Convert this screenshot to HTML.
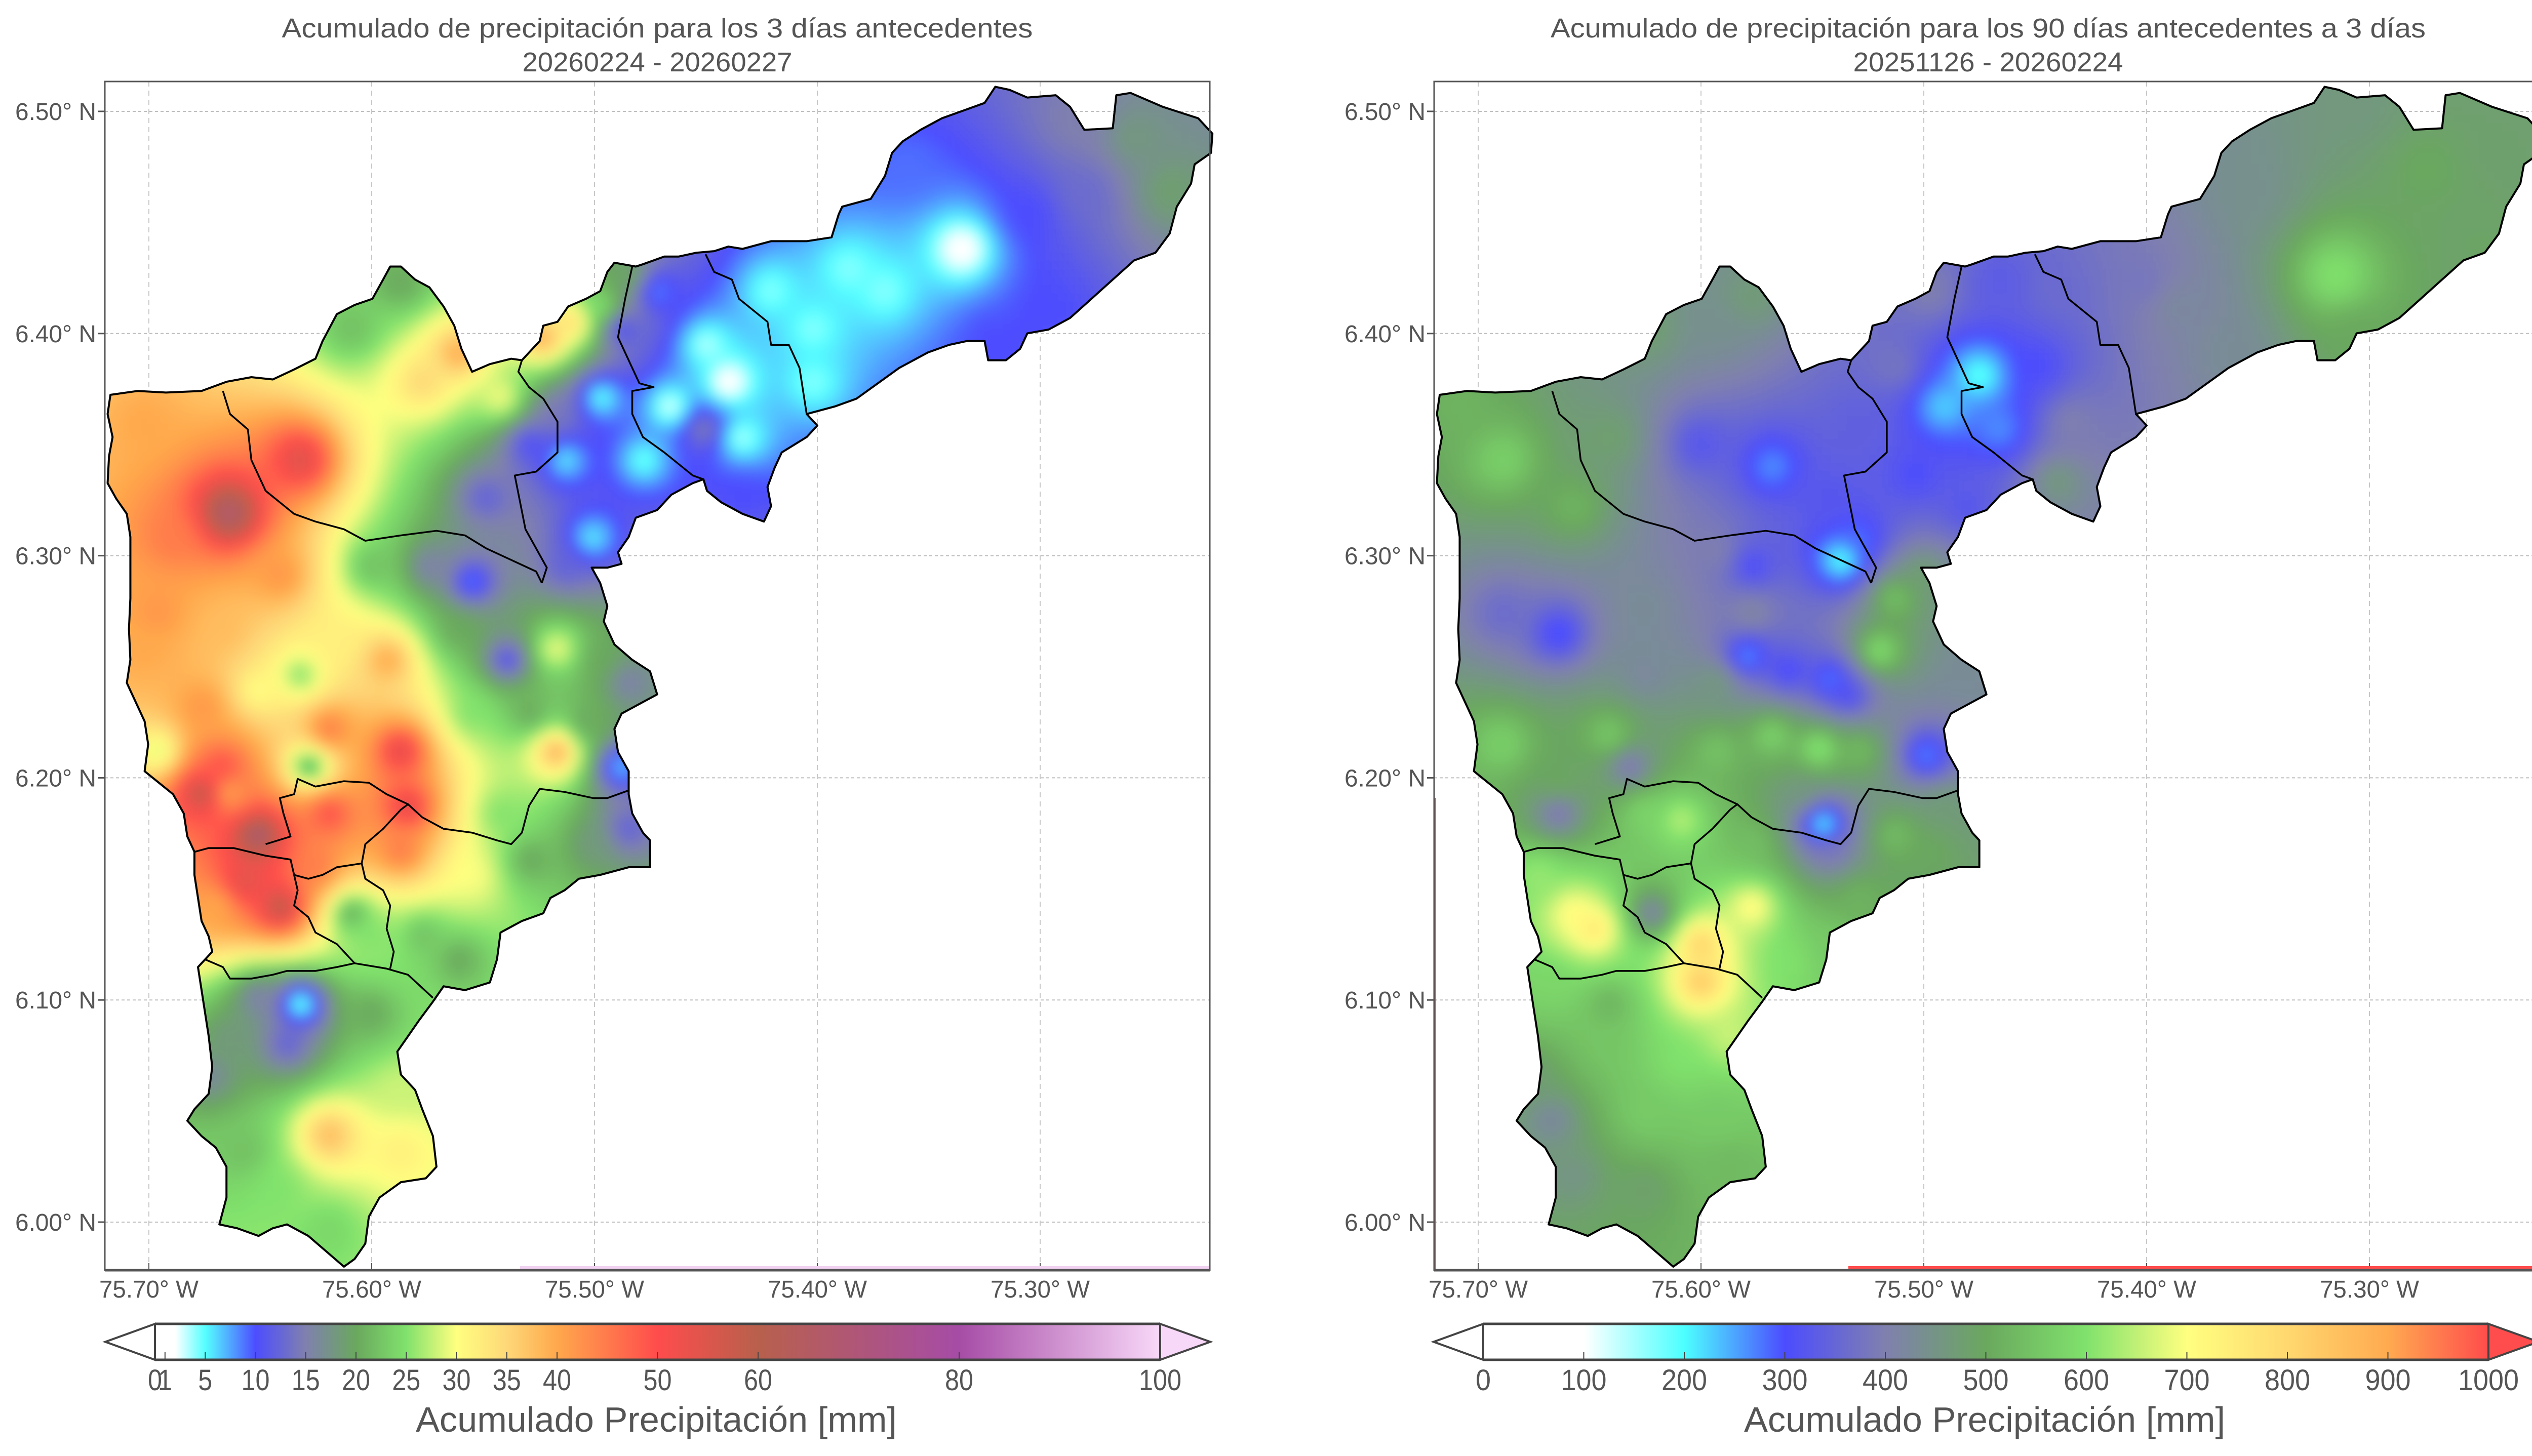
<!DOCTYPE html>
<html><head><meta charset="utf-8">
<style>
html,body{margin:0;padding:0;background:#fff;overflow:hidden;}
svg{display:block;}
text{font-family:"Liberation Sans",sans-serif;fill:#555;}
</style></head>
<body>
<svg id="fig" xmlns="http://www.w3.org/2000/svg" width="5044" height="2876" viewBox="0 0 5044 2876">
<defs>
<filter id="blur" x="-5%" y="-5%" width="110%" height="110%"><feGaussianBlur stdDeviation="12"/></filter>
</defs>
<rect width="5044" height="2876" fill="#fff"/>
<g id="p0"></g>
<g id="p1"></g>
</svg>
<script>
// ---------- data ----------
const lonTicks = [-75.70,-75.60,-75.50,-75.40,-75.30];
const lonTickLabels = ["75.70° W","75.60° W","75.50° W","75.40° W","75.30° W"];
const latTicks = [6.50,6.40,6.30,6.20,6.10,6.00];
const latTickLabels = ["6.50° N","6.40° N","6.30° N","6.20° N","6.10° N","6.00° N"];

// panel 1 stations (3 days)
const st1Lon = [-75.335,-75.360,-75.306,-75.296,-75.322,-75.258,-75.242,-75.283,-75.386,-75.402,-75.440,-75.466,-75.451,-75.434,-75.513,-75.501,-75.472,-75.488,-75.485,-75.497,-75.510,-75.523,-75.587,-75.609,-75.577,-75.561,-75.542,-75.517,-75.529,-75.549,-75.555,-75.574,-75.600,-75.664,-75.632,-75.702,-75.689,-75.641,-75.702,-75.667,-75.632,-75.651,-75.616,-75.593,-75.561,-75.539,-75.517,-75.513,-75.497,-75.485,-75.529,-75.504,-75.488,-75.485,-75.501,-75.517,-75.555,-75.587,-75.619,-75.628,-75.667,-75.676,-75.664,-75.696,-75.584,-75.619,-75.651,-75.657,-75.641,-75.670,-75.625,-75.609,-75.600,-75.587,-75.555,-75.542,-75.529,-75.577,-75.561,-75.632,-75.638,-75.664,-75.651,-75.600,-75.673,-75.619,-75.587,-75.641,-75.657,-75.619,-75.587,-75.696,-75.676,-75.450,-75.434,-75.478,-75.497,-75.421,-75.370,-75.402,-75.280];
const st1Lat = [6.438,6.474,6.454,6.412,6.398,6.488,6.464,6.495,6.429,6.378,6.378,6.367,6.357,6.329,6.343,6.308,6.419,6.402,6.426,6.412,6.405,6.398,6.423,6.402,6.378,6.391,6.371,6.364,6.350,6.326,6.288,6.295,6.295,6.319,6.343,6.360,6.308,6.291,6.257,6.267,6.246,6.239,6.260,6.253,6.267,6.253,6.258,6.295,6.253,6.243,6.229,6.225,6.205,6.177,6.170,6.212,6.229,6.212,6.222,6.205,6.205,6.193,6.193,6.212,6.187,6.184,6.174,6.153,6.142,6.142,6.160,6.139,6.129,6.167,6.156,6.184,6.163,6.129,6.118,6.098,6.080,6.084,6.101,6.094,6.066,6.039,6.032,6.015,6.032,5.997,6.059,6.274,6.232,6.395,6.353,6.343,6.371,6.419,6.419,6.402,6.464];
const st1Val = [1,9,10,10,10,18,19,15,4,4,0.5,2,15,10,5,5,8,10,20,25,35,40,20,22,35,40,30,14,10,12,8,15,22,68,55,40,45,42,40,38,25,30,32,40,20,10,30,12,20,15,20,20,6,12,18,40,25,55,45,20,50,60,40,28,55,50,70,55,60,40,45,20,25,45,30,25,20,22,20,3,12,18,15,20,16,38,32,25,22,24,28,42,42,3,3,4,4,4,4,4,13];

// panel 2 stations (90 days)
const st2Lon = [-75.315,-75.274,-75.242,-75.306,-75.354,-75.386,-75.402,-75.440,-75.363,-75.306,-75.248,-75.475,-75.491,-75.466,-75.504,-75.450,-75.434,-75.440,-75.513,-75.497,-75.481,-75.466,-75.529,-75.568,-75.600,-75.542,-75.537,-75.529,-75.593,-75.577,-75.625,-75.641,-75.689,-75.708,-75.657,-75.664,-75.689,-75.625,-75.593,-75.577,-75.577,-75.520,-75.513,-75.501,-75.481,-75.579,-75.561,-75.542,-75.534,-75.593,-75.625,-75.641,-75.689,-75.664,-75.664,-75.632,-75.593,-75.568,-75.547,-75.529,-75.499,-75.491,-75.545,-75.542,-75.555,-75.609,-75.625,-75.577,-75.513,-75.497,-75.529,-75.657,-75.648,-75.673,-75.622,-75.600,-75.600,-75.577,-75.587,-75.561,-75.542,-75.667,-75.641,-75.609,-75.593,-75.667,-75.657,-75.625,-75.587,-75.625,-75.641,-75.676];
const st2Lat = [6.426,6.474,6.481,6.502,6.464,6.412,6.423,6.419,6.391,6.398,6.440,6.381,6.367,6.357,6.336,6.385,6.360,6.333,6.385,6.419,6.322,6.423,6.360,6.340,6.350,6.326,6.298,6.308,6.402,6.416,6.402,6.353,6.343,6.367,6.322,6.265,6.274,6.277,6.302,6.295,6.274,6.257,6.281,6.291,6.246,6.255,6.248,6.244,6.237,6.243,6.246,6.219,6.215,6.198,6.184,6.205,6.212,6.219,6.213,6.212,6.210,6.187,6.179,6.167,6.194,6.181,6.184,6.170,6.174,6.167,6.146,6.139,6.132,6.156,6.139,6.125,6.108,6.142,6.084,6.118,6.125,6.108,6.080,6.073,6.049,6.046,6.021,6.015,6.025,6.049,6.098,6.066];
const st2Val = [600,500,480,460,440,420,380,360,430,500,490,180,220,260,300,300,400,460,380,400,320,330,340,260,320,320,180,280,440,470,480,480,570,520,520,290,360,430,400,300,420,600,550,480,430,250,290,260,300,460,420,560,570,500,380,380,550,580,620,540,260,470,180,380,460,650,580,540,540,500,520,720,770,620,400,820,840,720,660,600,560,580,550,600,560,420,450,480,530,560,520,470];

const cb1Ticks = [0,1,5,10,15,20,25,30,35,40,50,60,80,100];
const cb2Ticks = [0,100,200,300,400,500,600,700,800,900,1000];
const cmap1Stops = [[0,"#ffffff"],[2,"#ffffff"],[5,"#55ffff"],[10,"#4d4dff"],[15,"#8080ae"],[20,"#6aa85e"],[25,"#80e26c"],[30,"#ffff80"],[35,"#fed878"],[40,"#ffa84c"],[50,"#ff4c4c"],[60,"#b8604c"],[80,"#a64ca6"],[100,"#f8d8f8"]];
const cmap2Stops = [[0,"#ffffff"],[100,"#ffffff"],[200,"#4cffff"],[300,"#4c4cff"],[400,"#8080ae"],[500,"#6aa85e"],[600,"#80e26c"],[700,"#ffff80"],[800,"#ffd870"],[900,"#ffaa50"],[1000,"#ff4c4c"]];

// outline shape (reference grid units)
const outlineZ = [[1255,14],[1275,18],[1300,28],[1340,25],[1360,40],[1380,70],[1420,68],[1425,25],[1445,22],[1490,40],[1540,55],[1560,75],[1558,100],[1535,115],[1530,140],[1510,170],[1500,205],[1480,230],[1450,240],[1420,265],[1390,290],[1360,315],[1330,330],[1300,335],[1290,355],[1270,370],[1245,370],[1240,345],[1215,345],[1190,350],[1160,360],[1120,380],[1090,400],[1060,420],[1030,430],[990,440],[1005,455],[990,470],[955,490],[945,510],[935,535],[940,560],[930,580],[900,570],[870,555],[850,540],[845,525],[830,530],[800,545],[780,565],[750,575],[740,600],[725,620],[730,635],[710,640],[688,640],[700,660],[710,690],[705,710],[720,740],[745,760],[770,775],[780,805],[760,815],[730,830],[720,850],[725,880],[740,905],[740,935],[745,960],[760,985],[770,995],[770,1030],[740,1030],[700,1040],[670,1045],[650,1060],[630,1070],[620,1090],[590,1100],[560,1115],[555,1150],[545,1180],[510,1190],[480,1185],[465,1205],[445,1230],[430,1250],[415,1270],[420,1300],[440,1320],[450,1345],[465,1380],[470,1420],[455,1435],[420,1440],[390,1460],[375,1485],[370,1520],[355,1540],[340,1550],[315,1530],[290,1510],[260,1495],[240,1500],[220,1510],[190,1500],[165,1495],[175,1460],[175,1420],[160,1395],[140,1380],[120,1360],[130,1345],[150,1325],[155,1290],[150,1250],[145,1220],[140,1190],[135,1160],[145,1150],[155,1140],[150,1120],[140,1100],[135,1070],[130,1040],[130,1010],[120,990],[115,960],[100,935],[80,920],[60,905],[65,870],[60,840],[45,810],[35,790],[40,760],[38,720],[40,680],[40,640],[40,600],[35,570],[20,550],[8,530],[10,495],[15,470],[8,440],[12,415],[50,410],[90,412],[140,410],[175,398],[210,392],[240,395],[270,382],[300,368],[310,345],[330,310],[355,298],[380,290],[395,265],[405,248],[420,248],[440,265],[460,275],[480,300],[495,325],[505,355],[520,385],[545,375],[575,368],[590,370],[615,345],[620,325],[640,320],[655,300],[680,290],[700,280],[710,255],[720,243],[750,248],[760,245],[790,235],[810,235],[835,230],[860,228],[880,222],[900,225],[940,215],[990,215],[1025,210],[1035,180],[1040,170],[1060,165],[1080,160],[1100,130],[1110,100],[1125,85],[1150,70],[1180,55],[1210,45],[1240,35]];
const innerZ = [
[[170,410],[180,440],[205,460],[210,500],[230,540],[270,570],[300,580],[340,590],[370,605],[420,598],[470,592],[510,598],[540,615],[575,630],[610,645],[618,660]],
[[618,660],[625,640],[595,590],[580,520],[610,515],[640,490],[640,450],[620,420],[600,405],[585,385],[590,370]],
[[745,248],[735,290],[725,340],[740,370],[755,400],[775,405],[745,410],[745,440],[760,470],[790,490],[830,520],[845,525]],
[[848,232],[860,255],[885,265],[895,290],[935,320],[940,350],[965,350],[980,380],[985,410],[990,440]],
[[130,1010],[150,1005],[185,1005],[230,1015],[265,1020],[270,1040],[290,1045],[310,1040],[330,1030],[365,1025],[370,1000],[395,980],[420,955],[430,948],[450,965],[480,980],[520,985],[555,995],[575,1000],[590,985],[600,950],[615,928],[650,932],[690,940],[710,940],[740,930]],
[[230,1000],[265,990],[255,960],[250,940],[270,935],[275,915],[300,925],[340,918],[375,920],[400,935],[430,948]],
[[270,1040],[275,1060],[270,1080],[290,1095],[300,1115],[330,1130],[355,1155],[400,1162],[430,1170],[465,1200]],
[[365,1025],[370,1045],[395,1060],[405,1080],[400,1110],[410,1140],[405,1162]],
[[135,1160],[145,1150],[170,1160],[180,1175],[210,1175],[240,1170],[260,1165],[300,1165],[330,1160],[355,1155]]
];

// ---------- helpers ----------
const NS = "http://www.w3.org/2000/svg";
function mk(tag, attrs, parent){const e=document.createElementNS(NS,tag);for(const k in attrs)e.setAttribute(k,attrs[k]);if(parent)parent.appendChild(e);return e;}
const zLon = z => -75.70 + (z-66)/3130;
const zLat = z => 6.50 - (z-46)/2892;
function hex(c){return [parseInt(c.substr(1,2),16),parseInt(c.substr(3,2),16),parseInt(c.substr(5,2),16)];}
function cmap(stops, v){
  if(v<=stops[0][0]) return stops[0][1];
  for(let i=1;i<stops.length;i++){
    if(v<=stops[i][0]){
      const t=(v-stops[i-1][0])/(stops[i][0]-stops[i-1][0]);
      const a=hex(stops[i-1][1]), b=hex(stops[i][1]);
      return "rgb("+a.map((x,j)=>Math.round(x+(b[j]-x)*t)).join(",")+")";
    }
  }
  return stops[stops.length-1][1];
}
function inside(pt, poly){
  let c=false;
  for(let i=0,j=poly.length-1;i<poly.length;j=i++){
    const xi=poly[i][0],yi=poly[i][1],xj=poly[j][0],yj=poly[j][1];
    if(((yi>pt[1])!==(yj>pt[1])) && (pt[0] < (xj-xi)*(pt[1]-yi)/(yj-yi)+xi)) c=!c;
  }
  return c;
}

function buildPanel(idx, cfg){
  const g = document.getElementById("p"+idx);
  const X0=cfg.x0, AX0=cfg.ax0, AX1=cfg.ax1, AY0=161, AY1=2509;
  const lonToX = lon => X0 + (lon+75.70)*4400;
  const latToY = lat => 220 + (6.50-lat)*4388;

  const t1 = mk("text",{x:cfg.tc, y:74, "text-anchor":"middle","font-size":54, textLength:cfg.t1w, lengthAdjust:"spacingAndGlyphs"}, g);
  t1.textContent = cfg.title1;
  
  
  const t2 = mk("text",{x:cfg.tc, y:141, "text-anchor":"middle","font-size":54, textLength:533, lengthAdjust:"spacingAndGlyphs"}, g);
  t2.textContent = cfg.title2;
  
  

  const grid = mk("g",{}, g);
  
  
  lonTicks.forEach((lon,i)=>{
    const x=lonToX(lon);
    const l=mk("line",{x1:x,x2:x,y1:AY0,y2:AY1,stroke:"#c8c8c8","stroke-width":2,"stroke-dasharray":"10,8"},grid);
    
    
    mk("line",{x1:x,x2:x,y1:AY1-14,y2:AY1,stroke:"#555","stroke-width":2},g);
    const tl=mk("text",{x:x,y:2563,"text-anchor":"middle","font-size":48,textLength:196,lengthAdjust:"spacingAndGlyphs"},g);
    tl.textContent=lonTickLabels[i];
    
    
  });
  latTicks.forEach((lat,i)=>{
    const y=latToY(lat);
    const l=mk("line",{x1:AX0,x2:AX1,y1:y,y2:y,stroke:"#bdbdbd","stroke-width":2,"stroke-dasharray":"6,5"},grid);
    
    
    mk("line",{x1:AX0-14,x2:AX0,y1:y,y2:y,stroke:"#555","stroke-width":3},g);
    const tl=mk("text",{x:AX0-17,y:y+17,"text-anchor":"end","font-size":48,textLength:160,lengthAdjust:"spacingAndGlyphs"},g);
    tl.textContent=latTickLabels[i];
    
    
  });

  const poly = outlineZ.map(p=>[lonToX(zLon(p[0])), latToY(zLat(p[1]))]);
  const clipId="clip"+idx;
  const defs=document.querySelector("defs");
  const cp=mk("clipPath",{id:clipId},defs);
  mk("polygon",{points:poly.map(p=>p.join(",")).join(" ")},cp);

  const lons=cfg.lons, lats=cfg.lats, vals=cfg.vals;
  const outer=mk("g",{"clip-path":"url(#"+clipId+")"},g);
  
  
  const field=mk("g",{filter:"url(#blur)"},outer);
  const C=16;
  let minX=1e9,maxX=-1e9,minY=1e9,maxY=-1e9;
  poly.forEach(p=>{minX=Math.min(minX,p[0]);maxX=Math.max(maxX,p[0]);minY=Math.min(minY,p[1]);maxY=Math.max(maxY,p[1]);});
  const M=40;
  for(let y=Math.floor(minY-M); y<maxY+M; y+=C){
    for(let x=Math.floor(minX-M); x<maxX+M; x+=C){
      const cx=x+C/2, cy=y+C/2;
      let ok=false;
      for(const dx of [-M,0,M]){for(const dy of [-M,0,M]){ if(!ok && inside([cx+dx,cy+dy],poly)) ok=true; }}
      if(!ok) continue;
      const lon=(cx-X0)/4400-75.70, lat=6.50-(cy-220)/4388;
      let sw=0, sv=0;
      for(let k=0;k<vals.length;k++){
        const dx=(lon-lons[k]), dy=(lat-lats[k]);
        const d2=dx*dx+dy*dy+1.5e-5;
        const w=1/Math.pow(d2,1.15);
        sw+=w; sv+=w*vals[k];
      }
      const v=sv/sw;
      const r=mk("rect",{x:x,y:y,width:C+1,height:C+1,fill:cmap(cfg.stops,v)},field);
      
      
    }
  }

  const ol=mk("polygon",{points:poly.map(p=>p.join(",")).join(" "),fill:"none",stroke:"#000","stroke-width":4,"stroke-linejoin":"round"},g);
  
  
  innerZ.forEach(line=>{
    const pl=mk("polyline",{points:line.map(p=>[lonToX(zLon(p[0])),latToY(zLat(p[1]))].join(",")).join(" "),fill:"none",stroke:"#000","stroke-width":3.5,"stroke-linejoin":"round"},g);
    
    
  });

  if(cfg.edgeColor){
    mk("rect",{x:cfg.edgeX,y:AY1-8,width:AX1-cfg.edgeX,height:6,fill:cfg.edgeColor},g);
  }
  if(idx===1){
    mk("rect",{x:AX0,y:1576,width:3,height:AY1-1576,fill:"#d04040"},g);
  }

  const fr=mk("rect",{x:AX0,y:AY0,width:AX1-AX0,height:AY1-AY0,fill:"none",stroke:"#555","stroke-width":3},g);
  
  
  mk("line",{x1:AX0,x2:AX1,y1:AY1,y2:AY1,stroke:"#555","stroke-width":5},g);

  const cb=mk("g",{},g);
  
  
  const R0=cfg.cbx0, R1=cfg.cbx0+1985, Y0=2615, Y1=2686, YM=(Y0+Y1)/2;
  const gid="cbg"+idx;
  const lg=mk("linearGradient",{id:gid,x1:0,x2:1,y1:0,y2:0},defs);
  cfg.stops.forEach(s=>mk("stop",{offset:s[0]/cfg.max,"stop-color":s[1]},lg));
  mk("rect",{x:R0,y:Y0,width:R1-R0,height:Y1-Y0,fill:"url(#"+gid+")"},cb);
  mk("polygon",{points:`${R0},${Y0} ${R0-98},${YM} ${R0},${Y1}`,fill:cfg.stops[0][1],stroke:"#444","stroke-width":4},cb);
  mk("polygon",{points:`${R1},${Y0} ${R1+99},${YM} ${R1},${Y1}`,fill:cfg.stops[cfg.stops.length-1][1],stroke:"#444","stroke-width":4},cb);
  mk("line",{x1:R0,x2:R1,y1:Y0,y2:Y0,stroke:"#444","stroke-width":5},cb);
  mk("line",{x1:R0,x2:R1,y1:Y1,y2:Y1,stroke:"#444","stroke-width":5},cb);
  cfg.ticks.forEach(v=>{
    const x=R0+v/cfg.max*1985;
    mk("line",{x1:x,x2:x,y1:Y1-15,y2:Y1,stroke:"#444","stroke-width":2},cb);
    const s=String(v);
    const tl=mk("text",{x:x,y:2746,"text-anchor":"middle","font-size":58,textLength:s.length*(idx===0?28:30),lengthAdjust:"spacingAndGlyphs"},cb);
    tl.textContent=s;
    
    
  });
  const cl=mk("text",{x:R0+990,y:2828,"text-anchor":"middle","font-size":70,textLength:950,lengthAdjust:"spacingAndGlyphs"},cb);
  cl.textContent="Acumulado Precipitación [mm]";
  
  
}

buildPanel(0,{x0:294,ax0:207,ax1:2389,tc:1298,t1w:1483,
  title1:"Acumulado de precipitación para los 3 días antecedentes",title2:"20260224 - 20260227",
  lons:st1Lon,lats:st1Lat,vals:st1Val,stops:cmap1Stops,max:100,ticks:cb1Ticks,cbx0:306,
  edgeColor:"#f2d2f2",edgeX:1027});
buildPanel(1,{x0:2919,ax0:2832,ax1:5013,tc:3926,t1w:1728,
  title1:"Acumulado de precipitación para los 90 días antecedentes a 3 días",title2:"20251126 - 20260224",
  lons:st2Lon,lats:st2Lat,vals:st2Val,stops:cmap2Stops,max:1000,ticks:cb2Ticks,cbx0:2929,
  edgeColor:"#ff4c4c",edgeX:3650});
</script>
</body></html>
